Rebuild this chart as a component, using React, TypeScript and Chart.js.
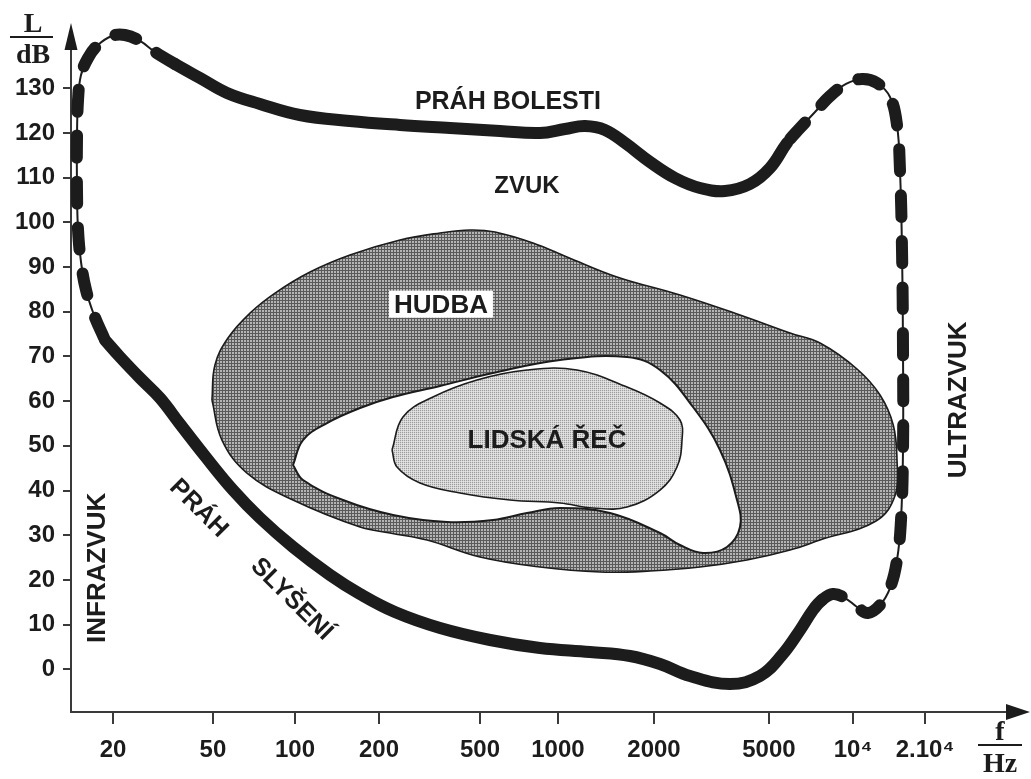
import React, { useEffect, useRef } from 'react';
import { Chart, registerables, LogarithmicScale } from 'chart.js';

Chart.register(...registerables);

// ---------- Axes ----------
const X_TICK_HZ = [20, 50, 100, 200, 500, 1000, 2000, 5000, 10000, 20000];
const X_TICK_LABELS = ['20', '50', '100', '200', '500', '1000', '2000', '5000', '10⁴', '2.10⁴'];
// The printed frequency axis is only roughly logarithmic: relative place of each tick along it
const X_TICK_AXIS_FRACTION = [0.0448, 0.1515, 0.2391, 0.3287, 0.4365, 0.5197, 0.6222, 0.7449, 0.8346, 0.9114];
const X_MIN_HZ = 13.6;
const X_MAX_HZ = 44500;
const Y_TICKS = [0, 10, 20, 30, 40, 50, 60, 70, 80, 90, 100, 110, 120, 130];
const Y_MIN_DB = -9.55;
const Y_MAX_DB = 143.05;

// ---------- Outer boundary: práh slyšení (bottom) + práh bolesti (top), closed loop ----------
const BOUNDARY_HZ = [
  18.58, 21.33, 25.62, 30.77, 36.96, 46.46, 59.2, 74.4, 98.3, 133.5,
  171, 231, 348, 547, 852, 1260, 1682, 2098, 2665, 3665,
  4654, 5567, 6459, 7189, 7743, 8481, 9363, 10393, 11555, 12970,
  14280, 15275, 15875, 16185, 16185, 16030, 15720, 15275, 14280, 12600,
  10905, 9441, 8273, 7309, 6459, 5800, 5041, 4298, 3521, 2886,
  2364, 1943, 1622, 1404, 1215, 1052, 852, 597, 381, 242,
  157, 104, 74.4, 56.3, 44.4, 35.3, 29.39, 25.62, 22.32, 19.82,
  17.43, 15.91, 14.92, 14.52, 14.38, 14.38, 14.52, 14.92, 15.62, 16.81,
  18.58,
];
const BOUNDARY_DB = [
  73.69, 69.88, 65.18, 60.71, 54.89, 47.73, 40.12, 33.86, 27.37, 21.1,
  16.85, 12.82, 9.24, 6.56, 4.77, 3.87, 2.98, 1.19, -1.5, -3.29,
  -1.5, 3.2, 8.79, 13.29, 15.51, 16.85, 15.95, 13.94, 12.6, 14.39,
  18.19, 24.46, 33.41, 49.07, 71.45, 93.82, 111.72, 121.8, 128.06, 131.19,
  132.09, 130.97, 128.28, 124.7, 121.12, 117.77, 112.17, 108.59, 107.03, 107.7,
  109.94, 113.52, 117.77, 120.68, 121.57, 120.9, 120.0, 120.45, 121.12, 121.8,
  122.69, 124.03, 126.49, 128.96, 132.31, 135.44, 138.13, 140.59, 141.93, 141.71,
  139.7, 136.79, 132.98, 127.39, 118.44, 107.25, 98.3, 91.14, 84.87, 79.28,
  73.69,
];
// point-index ranges of the dashed (uncertain) parts of the boundary
const DASHED_RANGES = [[24, 45], [65, 80]];

// ---------- Hudba (music) ----------
const MUSIC_HZ = [
  49.54, 50.85, 56.76, 68.4, 84.46, 113.2, 157.4, 242, 347.8, 456.6,
  571.4, 800.8, 1067, 1531, 2460, 3969, 5947, 7616, 10393, 12970,
  14733, 15275, 15019, 12480, 7616, 5947, 4196, 2886, 1943, 1354,
  852.1, 500, 309.2, 221, 171, 98.3, 66.64, 53.95, 49.54,
];
const MUSIC_DB = [
  60.26, 68.09, 74.13, 79.72, 84.19, 88.9, 92.71, 96.06, 97.63, 98.3,
  97.85, 95.39, 92.26, 87.78, 83.75, 79.28, 75.25, 73.01, 67.2, 61.38,
  54.66, 46.83, 39.0, 33.18, 28.93, 26.7, 24.46, 22.89, 22.0, 21.77,
  22.89, 25.13, 28.93, 30.5, 31.83, 37.88, 43.92, 51.3, 60.26,
];

// ---------- white band around speech ----------
const SPEECH_BAND_HZ = [
  98.3, 106.8, 130.2, 171, 227.2, 347.8, 561.3, 1014.5, 1646, 2098,
  2729, 3384, 3876, 3969, 3578, 2955, 2460, 2098, 1456, 1014.5,
  759.3, 561.3, 370.7, 227.2, 148.6, 106.8, 98.3,
];
const SPEECH_BAND_DB = [
  45.71, 51.3, 55.11, 58.47, 60.93, 63.39, 66.3, 69.21, 69.88, 66.97,
  58.69, 49.07, 37.88, 31.83, 27.37, 26.02, 27.81, 30.5, 34.97, 36.09,
  34.97, 33.41, 32.96, 34.53, 37.88, 42.36, 45.71,
];

// ---------- Lidská řeč (speech) ----------
const SPEECH_HZ = [
  225.1, 248.6, 326.4, 486.6, 759.3, 1147, 1646, 2098, 2460, 2500,
  2402, 2098, 1646, 1288, 1014.5, 652.8, 417, 290.1, 235.5, 225.1,
];
const SPEECH_DB = [
  49.07, 56.46, 60.93, 64.74, 66.97, 66.97, 63.17, 59.59, 55.78, 51.3,
  45.27, 40.12, 36.32, 36.09, 37.21, 37.88, 39.45, 41.69, 45.27, 49.07,
];

// ---------- Text labels ----------
const REGION_LABELS = ['PRÁH BOLESTI', 'ZVUK', 'HUDBA', 'LIDSKÁ ŘEČ', 'INFRAZVUK', 'ULTRAZVUK', 'PRÁH', 'SLYŠENÍ'];
const LABEL_HZ = [641, 759, 351, 907, 17.1, 27200, 44.4, 98.3];
const LABEL_DB = [127.4, 108.4, 81.7, 51.5, 22.7, 60.3, 36.3, 16.0];

// styles
const LABEL_ANGLE = [0, 0, 0, 0, -90, -90, 45, 45];
const LABEL_SIZE = [25, 24, 26, 26, 26, 26, 25, 25];
const LABEL_BOX = [false, false, true, false, false, false, false, false];
const SANS = '"Liberation Sans", Arial, sans-serif';
const SERIF = '"Liberation Serif", "Times New Roman", serif';
const INK = '#1c1c1c';

const TICK_LOG = X_TICK_HZ.map((v) => Math.log10(v));

function logToFraction(L: number): number {
  const n = TICK_LOG.length;
  let i = 0;
  if (L >= TICK_LOG[n - 1]) i = n - 2;
  else if (L > TICK_LOG[0]) {
    while (i < n - 2 && L > TICK_LOG[i + 1]) i++;
  }
  const t = (L - TICK_LOG[i]) / (TICK_LOG[i + 1] - TICK_LOG[i]);
  return X_TICK_AXIS_FRACTION[i] + t * (X_TICK_AXIS_FRACTION[i + 1] - X_TICK_AXIS_FRACTION[i]);
}

function fractionToLog(d: number): number {
  const F = X_TICK_AXIS_FRACTION;
  const n = F.length;
  let i = 0;
  if (d >= F[n - 1]) i = n - 2;
  else if (d > F[0]) {
    while (i < n - 2 && d > F[i + 1]) i++;
  }
  const t = (d - F[i]) / (F[i + 1] - F[i]);
  return TICK_LOG[i] + t * (TICK_LOG[i + 1] - TICK_LOG[i]);
}

class WarpedLogScale extends LogarithmicScale {
  static id = 'warpedLog';
  static defaults = LogarithmicScale.defaults;
  getPixelForValue(value: any) {
    if (value === null || value === undefined || isNaN(value) || value <= 0) return NaN;
    return this.getPixelForDecimal(logToFraction(Math.log10(value)));
  }
  getValueForPixel(pixel: number) {
    return Math.pow(10, fractionToLog(this.getDecimalForPixel(pixel)));
  }
}
Chart.register(WarpedLogScale as any);

function toPoints(xs: number[], ys: number[]) {
  return xs.map((x, i) => ({ x, y: ys[i] }));
}

function makePattern(size: number, cells: string[][]): CanvasPattern | string {
  const c = document.createElement('canvas');
  c.width = size;
  c.height = size;
  const g = c.getContext('2d');
  if (!g) return '#888';
  for (let r = 0; r < size; r++) {
    for (let k = 0; k < size; k++) {
      g.fillStyle = cells[r][k];
      g.fillRect(k, r, 1, 1);
    }
  }
  const p = g.createPattern(c, 'repeat');
  return p || '#888';
}

function isDashed(index: number): boolean {
  return DASHED_RANGES.some(([a, b]) => index >= a && index < b);
}

const figurePlugin = {
  id: 'figureText',
  afterDatasetsDraw(chart: any) {
    const { ctx } = chart;
    const xs = chart.scales.x;
    const ys = chart.scales.y;
    REGION_LABELS.forEach((text, i) => {
      const px = xs.getPixelForValue(LABEL_HZ[i]);
      const py = ys.getPixelForValue(LABEL_DB[i]);
      const size = LABEL_SIZE[i];
      ctx.save();
      ctx.translate(px, py);
      ctx.rotate((LABEL_ANGLE[i] * Math.PI) / 180);
      ctx.font = `bold ${size}px ${SANS}`;
      ctx.textAlign = 'center';
      ctx.textBaseline = 'alphabetic';
      if (LABEL_BOX[i]) {
        const w = ctx.measureText(text).width + 10;
        ctx.fillStyle = '#ffffff';
        ctx.fillRect(-w / 2, -size * 0.52, w, size * 1.04);
      }
      ctx.fillStyle = INK;
      ctx.fillText(text, 0, size * 0.358);
      ctx.restore();
    });
  },
  afterDraw(chart: any) {
    const { ctx, chartArea } = chart;
    ctx.save();
    ctx.fillStyle = INK;
    // y arrow
    const ax = chartArea.left;
    ctx.beginPath();
    ctx.moveTo(ax, chartArea.top - 7);
    ctx.lineTo(ax - 6.5, chartArea.top + 20);
    ctx.lineTo(ax + 6.5, chartArea.top + 20);
    ctx.closePath();
    ctx.fill();
    // x arrow
    const ay = chartArea.bottom;
    ctx.beginPath();
    ctx.moveTo(chartArea.right + 22, ay);
    ctx.lineTo(chartArea.right - 2, ay - 8);
    ctx.lineTo(chartArea.right - 2, ay + 8);
    ctx.closePath();
    ctx.fill();

    // axis titles as fractions
    ctx.font = `bold 28px ${SERIF}`;
    ctx.textAlign = 'center';
    ctx.textBaseline = 'alphabetic';
    ctx.strokeStyle = INK;
    ctx.lineWidth = 2;
    // L / dB
    ctx.fillText('L', 33, 32);
    ctx.beginPath();
    ctx.moveTo(10, 37);
    ctx.lineTo(53, 37);
    ctx.stroke();
    ctx.fillText('dB', 33, 63);
    // f / Hz
    ctx.fillText('f', 1000, 740);
    ctx.beginPath();
    ctx.moveTo(978, 745);
    ctx.lineTo(1022, 745);
    ctx.stroke();
    ctx.fillText('Hz', 1000, 772);
    ctx.restore();
  },
};

export default function App() {
  const ref = useRef<HTMLCanvasElement | null>(null);

  useEffect(() => {
    const canvas = ref.current;
    if (!canvas) return;

    const musicFill = makePattern(3, [
      ['#5a5a5a', '#5a5a5a', '#5a5a5a'],
      ['#5a5a5a', '#b4b4b4', '#b4b4b4'],
      ['#5a5a5a', '#b4b4b4', '#b4b4b4'],
    ]);
    const speechFill = makePattern(2, [
      ['#9c9c9c', '#d6d6d6'],
      ['#d6d6d6', '#e4e4e4'],
    ]);

    const chart = new Chart(canvas, {
      type: 'line',
      data: {
        datasets: [
          {
            label: 'hranice (tenká)',
            data: toPoints(BOUNDARY_HZ, BOUNDARY_DB),
            borderColor: INK,
            borderWidth: 2,
            pointRadius: 0,
            tension: 0.4,
            fill: false,
            clip: false,
            order: 2,
          } as any,
          {
            label: 'práh',
            data: toPoints(BOUNDARY_HZ, BOUNDARY_DB),
            borderColor: INK,
            borderWidth: 12,
            borderCapStyle: 'round',
            borderJoinStyle: 'round',
            pointRadius: 0,
            tension: 0.4,
            fill: false,
            clip: false,
            order: 1,
            segment: {
              borderDash: (c: any) => (isDashed(c.p0DataIndex) ? [22, 24] : []),
            },
          } as any,
          {
            label: 'HUDBA',
            data: toPoints(MUSIC_HZ, MUSIC_DB),
            borderColor: INK,
            borderWidth: 1.6,
            backgroundColor: musicFill,
            pointRadius: 0,
            tension: 0.4,
            fill: 'shape',
            order: 5,
          } as any,
          {
            label: 'řeč (okolí)',
            data: toPoints(SPEECH_BAND_HZ, SPEECH_BAND_DB),
            borderColor: INK,
            borderWidth: 2,
            backgroundColor: '#ffffff',
            pointRadius: 0,
            tension: 0.4,
            fill: 'shape',
            order: 4,
          } as any,
          {
            label: 'LIDSKÁ ŘEČ',
            data: toPoints(SPEECH_HZ, SPEECH_DB),
            borderColor: INK,
            borderWidth: 1.6,
            backgroundColor: speechFill,
            pointRadius: 0,
            tension: 0.4,
            fill: 'shape',
            order: 3,
          } as any,
        ],
      },
      options: {
        animation: false,
        responsive: false,
        maintainAspectRatio: false,
        events: [],
        layout: { padding: { top: 30, right: 23, left: 0, bottom: 0 } },
        plugins: {
          legend: { display: false },
          tooltip: { enabled: false },
        },
        scales: {
          x: {
            type: 'warpedLog' as any,
            min: X_MIN_HZ,
            max: X_MAX_HZ,
            afterFit: (s: any) => {
              s.height = 67;
            },
            afterBuildTicks: (s: any) => {
              s.ticks = X_TICK_HZ.map((v) => ({ value: v }));
            },
            ticks: {
              autoSkip: false,
              maxRotation: 0,
              minRotation: 0,
              padding: 12,
              color: INK,
              font: { family: SANS, size: 24, weight: 'bold' },
              callback: (_v: any, i: number) => X_TICK_LABELS[i],
            },
            grid: { drawOnChartArea: false, drawTicks: true, tickLength: 12, color: '#3a3a3a', lineWidth: 2 },
            border: { display: true, color: '#3a3a3a', width: 2 },
          } as any,
          y: {
            type: 'linear',
            min: Y_MIN_DB,
            max: Y_MAX_DB,
            afterFit: (s: any) => {
              s.width = 71;
            },
            afterBuildTicks: (s: any) => {
              s.ticks = Y_TICKS.map((v) => ({ value: v }));
            },
            ticks: {
              autoSkip: false,
              padding: 8,
              color: INK,
              font: { family: SANS, size: 24, weight: 'bold' },
              callback: (v: any) => String(v),
            },
            grid: { drawOnChartArea: false, drawTicks: true, tickLength: 8, color: '#3a3a3a', lineWidth: 2 },
            border: { display: true, color: '#3a3a3a', width: 2 },
          } as any,
        },
      },
      plugins: [figurePlugin],
    });

    return () => chart.destroy();
  }, []);

  return (
    <canvas
      ref={ref}
      width={1031}
      height={779}
      style={{ position: 'fixed', left: 0, top: 0, display: 'block', background: '#ffffff' }}
    />
  );
}
